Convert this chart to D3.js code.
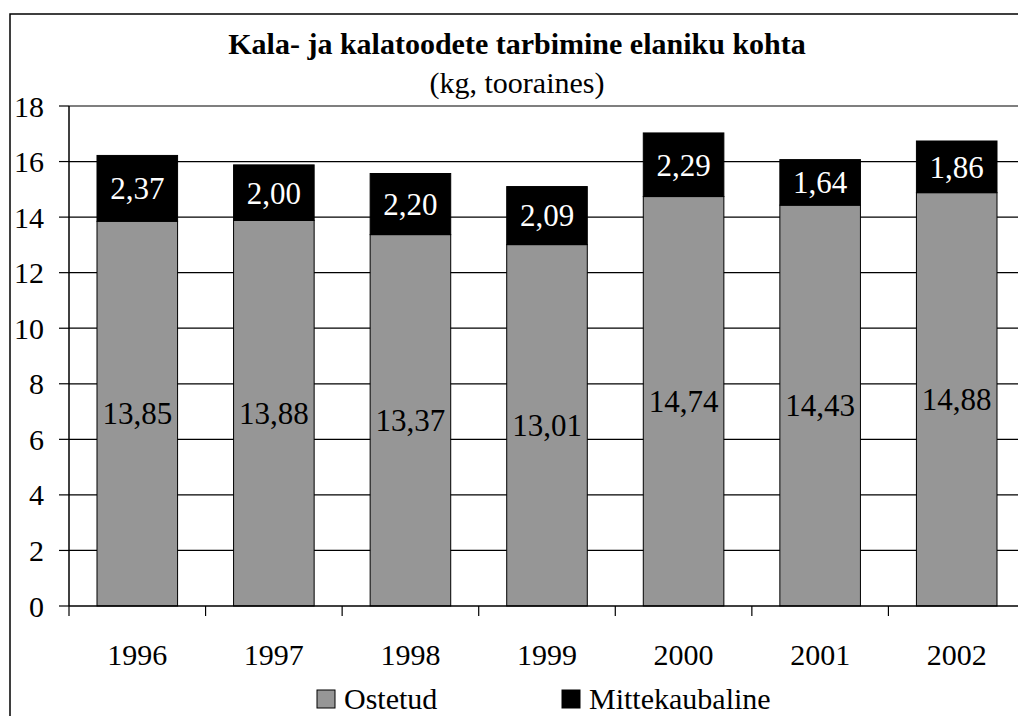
<!DOCTYPE html>
<html>
<head>
<meta charset="utf-8">
<script src="https://cdn.jsdelivr.net/npm/d3@7"></script>
<style>
  html, body { margin: 0; padding: 0; background: #fff; }
  svg { display: block; }
</style>
</head>
<body>
<div id="chart"></div>
<script>
// data
const years = ["1996", "1997", "1998", "1999", "2000", "2001", "2002"];
const ostetud = [13.85, 13.88, 13.37, 13.01, 14.74, 14.43, 14.88];
const mittekaubaline = [2.37, 2.00, 2.20, 2.09, 2.29, 1.64, 1.86];
const yTicks = [0, 2, 4, 6, 8, 10, 12, 14, 16, 18];
const seriesNames = ["Ostetud", "Mittekaubaline"];
const seriesColors = ["#969696", "#000000"];

const W = 1018, H = 716;
const plot = { left: 69, top: 106, right: 1025, bottom: 606 };
const serif = '"Liberation Serif", "Times New Roman", Tinos, serif';

const svg = d3.select("#chart").append("svg")
  .attr("width", W).attr("height", H);

// outer frame (runs off the right/bottom edge like the original)
svg.append("rect")
  .attr("x", 10).attr("y", 14)
  .attr("width", W + 20).attr("height", H + 20)
  .attr("fill", "none").attr("stroke", "#000").attr("stroke-width", 1.5);

// title
svg.append("text")
  .attr("x", 517).attr("y", 54)
  .attr("text-anchor", "middle")
  .style("font-family", serif)
  .style("font-size", "30px").style("font-weight", "bold")
  .text("Kala- ja kalatoodete tarbimine elaniku kohta");

svg.append("text")
  .attr("x", 517).attr("y", 93)
  .attr("text-anchor", "middle")
  .style("font-family", serif)
  .style("font-size", "30px")
  .text("(kg, tooraines)");

// scales
const x = d3.scaleBand().domain(years)
  .range([plot.left, plot.right])
  .paddingInner(0.41).paddingOuter(0.205);
const y = d3.scaleLinear().domain([0, 18]).range([plot.bottom, plot.top]);
const halfGap = (x.step() - x.bandwidth()) / 2;

// gridlines
svg.append("g").selectAll("line")
  .data(yTicks.filter(d => d > 0))
  .join("line")
  .attr("x1", plot.left).attr("x2", plot.right)
  .attr("y1", d => y(d)).attr("y2", d => y(d))
  .attr("stroke", "#000").attr("stroke-width", 1.2);

// stacked bars
const stackData = years.map((yr, i) => ({ year: yr, Ostetud: ostetud[i], Mittekaubaline: mittekaubaline[i] }));
const stacked = d3.stack().keys(seriesNames)(stackData);

const layers = svg.append("g").selectAll("g")
  .data(stacked)
  .join("g")
  .attr("fill", (d, i) => seriesColors[i]);

layers.selectAll("rect")
  .data(d => d)
  .join("rect")
  .attr("x", d => x(d.data.year))
  .attr("width", x.bandwidth())
  .attr("y", d => y(d[1]))
  .attr("height", d => y(d[0]) - y(d[1]))
  .attr("stroke", "#000").attr("stroke-width", 1);

// value labels
const fmt = v => d3.format(".2f")(v).replace(".", ",");
layers.selectAll("text")
  .data((d, i) => d.map(p => ({ p, i })))
  .join("text")
  .attr("x", d => x(d.p.data.year) + x.bandwidth() / 2)
  .attr("y", d => y((d.p[0] + d.p[1]) / 2))
  .attr("dy", "0.35em")
  .attr("text-anchor", "middle")
  .style("font-family", serif)
  .style("font-size", "31px")
  .attr("fill", d => d.i === 0 ? "#000" : "#fff")
  .text(d => fmt(d.p[1] - d.p[0]));

// y axis
const yAxis = svg.append("g");
yAxis.append("line")
  .attr("x1", plot.left).attr("x2", plot.left)
  .attr("y1", plot.top).attr("y2", plot.bottom)
  .attr("stroke", "#000").attr("stroke-width", 1.5);
const yt = yAxis.selectAll("g.tick").data(yTicks).join("g").attr("class", "tick");
yt.append("line")
  .attr("x1", plot.left - 10).attr("x2", plot.left)
  .attr("y1", d => y(d)).attr("y2", d => y(d))
  .attr("stroke", "#000").attr("stroke-width", 1.2);
yt.append("text")
  .attr("x", 44).attr("y", d => y(d))
  .attr("dy", "0.35em")
  .attr("text-anchor", "end")
  .style("font-family", serif)
  .style("font-size", "30px")
  .text(d => d);

// x axis
const xAxis = svg.append("g");
xAxis.append("line")
  .attr("x1", plot.left).attr("x2", plot.right)
  .attr("y1", plot.bottom).attr("y2", plot.bottom)
  .attr("stroke", "#000").attr("stroke-width", 1.5);
xAxis.selectAll("line.tk")
  .data(years)
  .join("line").attr("class", "tk")
  .attr("x1", d => x(d) - halfGap).attr("x2", d => x(d) - halfGap)
  .attr("y1", plot.bottom).attr("y2", plot.bottom + 10)
  .attr("stroke", "#000").attr("stroke-width", 1.2);
xAxis.selectAll("text")
  .data(years)
  .join("text")
  .attr("x", d => x(d) + x.bandwidth() / 2)
  .attr("y", 665)
  .attr("text-anchor", "middle")
  .style("font-family", serif)
  .style("font-size", "30px")
  .text(d => d);

// legend
const legendX = [317, 562];
const legend = svg.append("g").selectAll("g")
  .data(seriesNames)
  .join("g")
  .attr("transform", (d, i) => `translate(${legendX[i]},690)`);
legend.append("rect")
  .attr("x", 0).attr("y", 0).attr("width", 18).attr("height", 18)
  .attr("fill", (d, i) => seriesColors[i])
  .attr("stroke", "#000").attr("stroke-width", 1);
legend.append("text")
  .attr("x", 27).attr("y", 19)
  .style("font-family", serif)
  .style("font-size", "30px")
  .text(d => d);
</script>
</body>
</html>
